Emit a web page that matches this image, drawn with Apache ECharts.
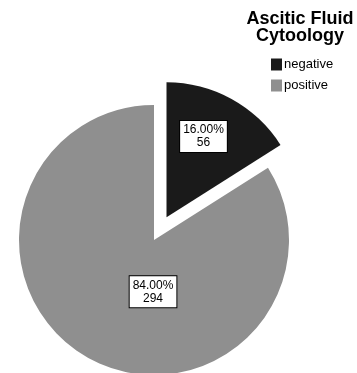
<!DOCTYPE html>
<html>
<head>
<meta charset="utf-8">
<script src="https://cdn.jsdelivr.net/npm/echarts@6/dist/echarts.min.js"></script>
<style>
html,body{margin:0;padding:0;background:#fff;}
#chart{width:357px;height:373px;}
</style>
</head>
<body>
<div id="chart"></div>
<script>
const titleText = 'Ascitic Fluid\nCytoology';
const categories = ['negative', 'positive'];
const counts = [56, 294];
const percents = [16.00, 84.00];
const colors = ['#1a1a1a', '#8f8f8f'];
const labelShift = [[3, -19], [33, -10]];

const chart = echarts.init(document.getElementById('chart'), null, {renderer: 'canvas'});
const FONT = '"Liberation Sans", Arial, sans-serif';

const data = categories.map((name, i) => ({
  name: name,
  value: counts[i],
  selected: i === 0,
  itemStyle: {color: colors[i]}
}));

chart.setOption({
  animation: false,
  backgroundColor: '#ffffff',
  title: {
    text: titleText,
    left: 300,
    top: 11,
    textAlign: 'center',
    padding: 0,
    textStyle: {
      fontFamily: FONT,
      fontWeight: 'bold',
      fontSize: 18,
      lineHeight: 17,
      color: '#000'
    }
  },
  legend: {
    orient: 'vertical',
    left: 271,
    top: 58,
    padding: 0,
    itemWidth: 11,
    itemHeight: 12,
    itemGap: 8,
    icon: 'rect',
    selectedMode: false,
    data: categories,
    textStyle: {
      fontFamily: FONT,
      fontSize: 13,
      color: '#000',
      padding: [0, 0, 0, -3]
    }
  },
  series: [{
    type: 'pie',
    center: [154, 240],
    radius: 135,
    startAngle: 90,
    clockwise: true,
    selectedMode: 'single',
    selectedOffset: 26,
    avoidLabelOverlap: false,
    emphasis: {disabled: true, scale: false},
    select: {itemStyle: {borderWidth: 0}},
    itemStyle: {borderWidth: 0},
    label: {
      show: true,
      position: 'inside',
      formatter: function (p) {
        return percents[p.dataIndex].toFixed(2) + '%\n' + counts[p.dataIndex];
      },
      fontFamily: FONT,
      fontSize: 12,
      lineHeight: 13,
      color: '#000',
      backgroundColor: '#ffffff',
      borderColor: '#000',
      borderWidth: 1,
      padding: [3, 3, 2, 3],
      align: 'center'
    },
    labelLine: {show: false},
    labelLayout: function (p) {
      const s = labelShift[p.dataIndex];
      return {dx: s[0], dy: s[1]};
    },
    data: data
  }]
});
</script>
</body>
</html>
